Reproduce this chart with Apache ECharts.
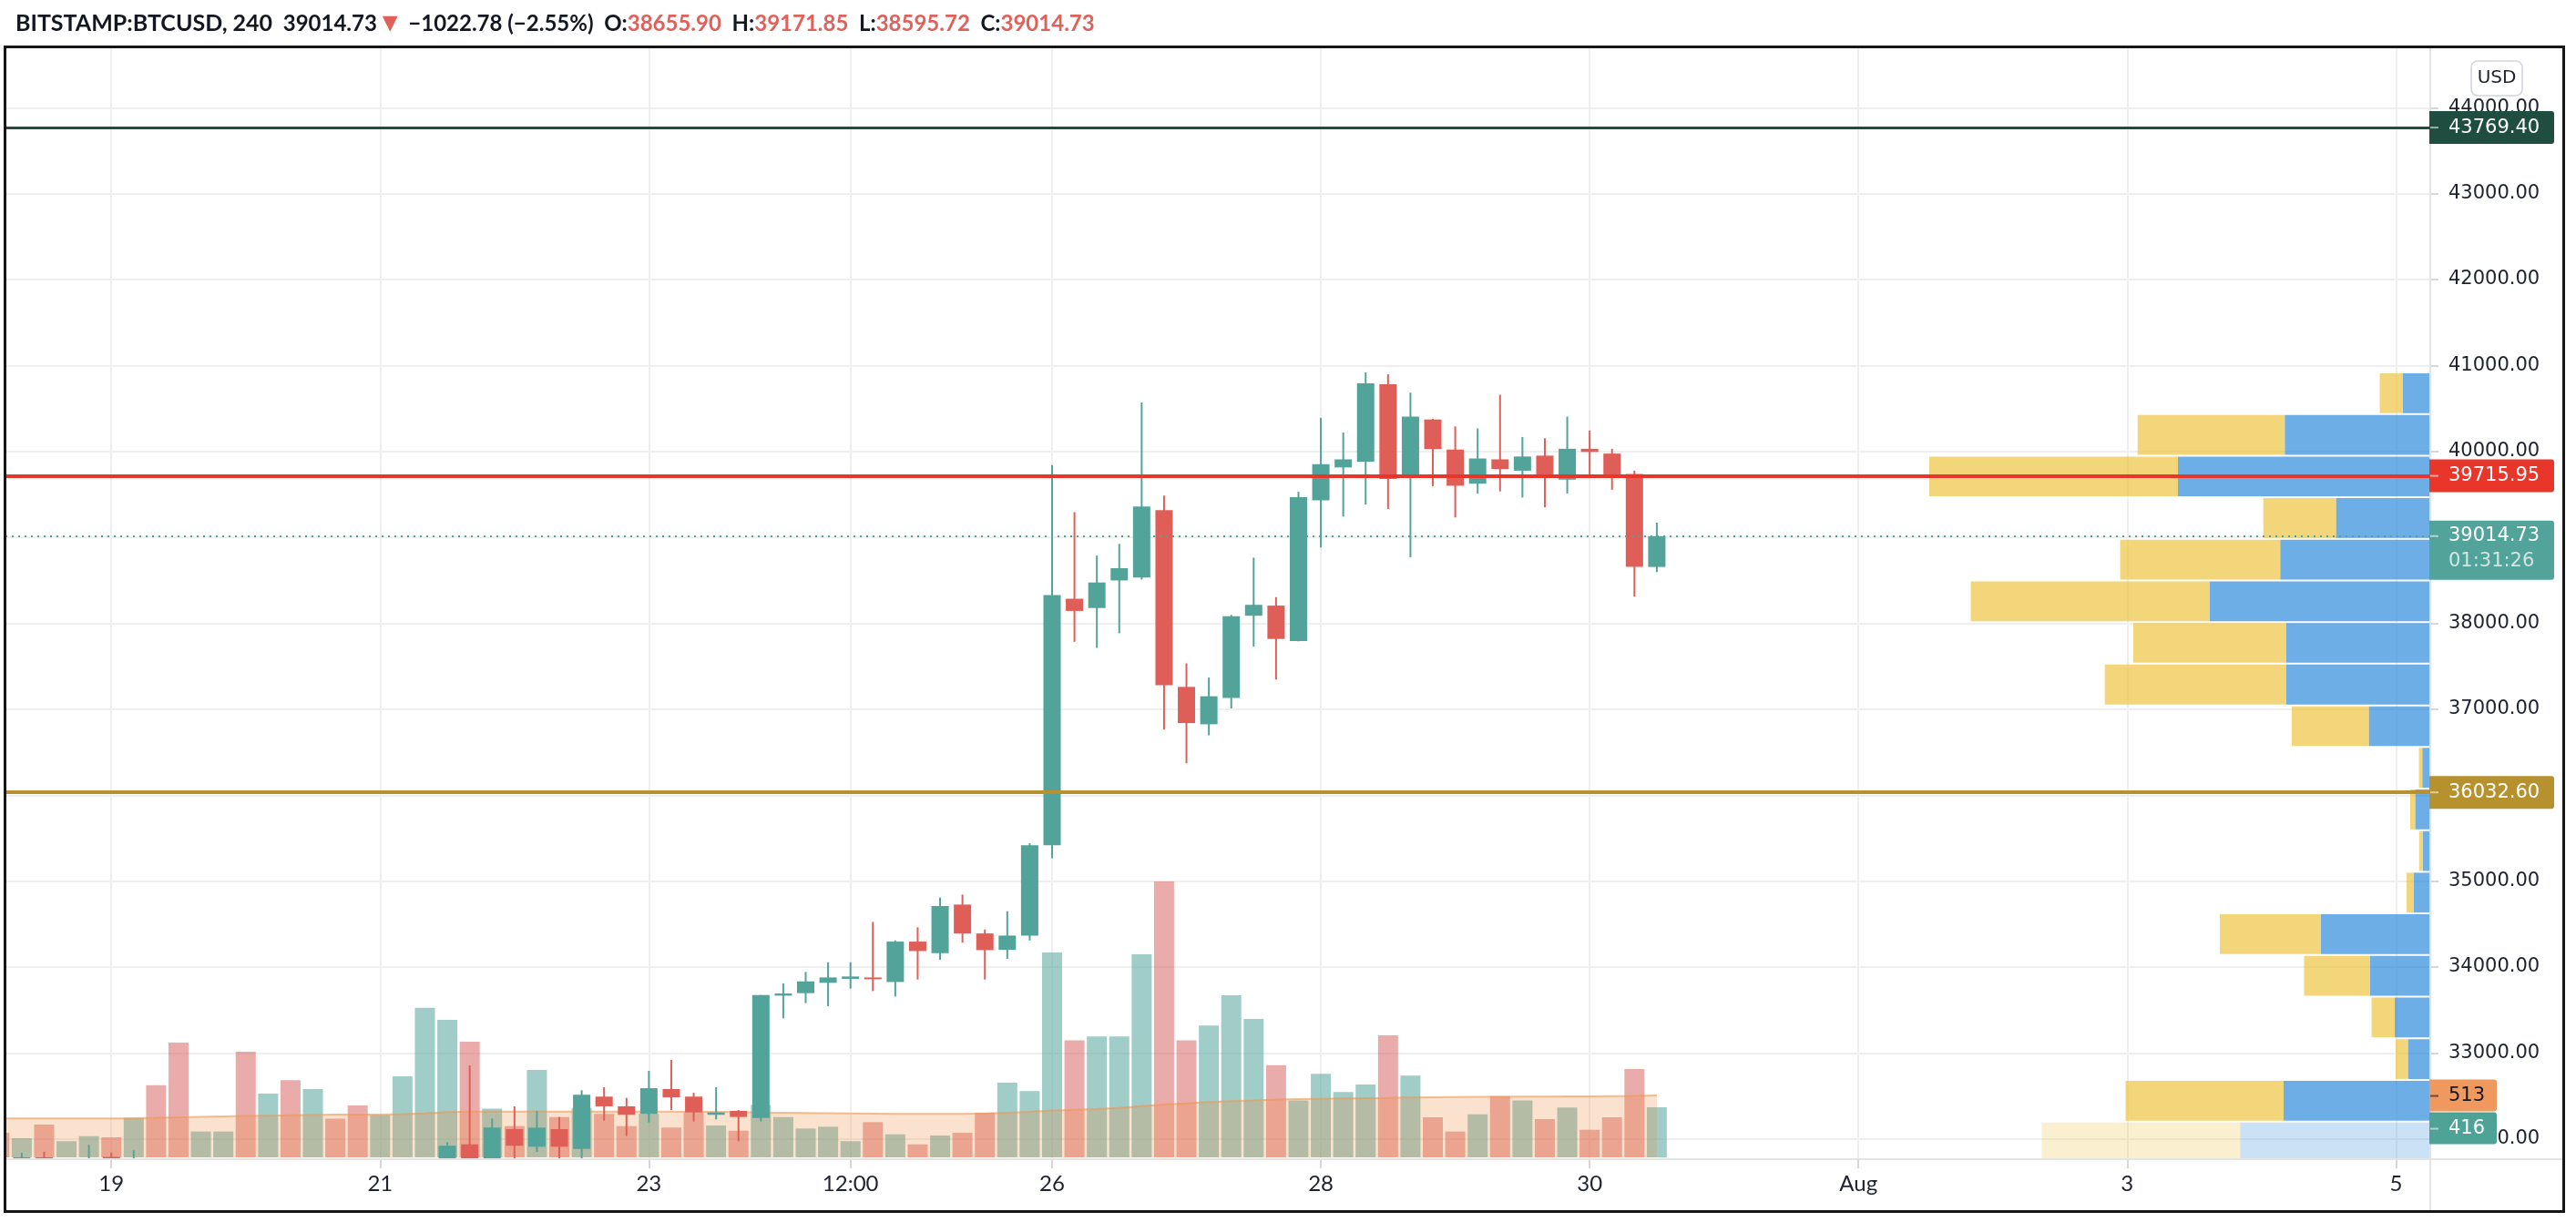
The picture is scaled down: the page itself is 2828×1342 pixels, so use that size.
<!DOCTYPE html>
<html>
<head>
<meta charset="utf-8">
<script src="https://cdn.jsdelivr.net/npm/echarts@6/dist/echarts.min.js"></script>
<style>
html,body{margin:0;padding:0;background:#fff;}
#chart{width:2828px;height:1342px;}
</style>
</head>
<body>
<div id="chart"></div>
<script>
// ---------------- DATA ----------------
// 4h candles, index 0 = 2021-07-18 04:00 ... index 74 = 2021-07-30 12:00
const candleOpen = [31700,31550,31785,31600,31650,31790,31600,31700,31300,30700,
  30850,30950,30200,30400,29800,29950,29800,29750,30300,31000,
  31500,31937,31550,32114,31909,32114,31884,32492,32379,32290,
  32580,32492,32280,32326,32244,33667,33696,33816,33862,33879,
  33826,34296,34162,34727,34391,34200,34366,35416,38286,38178,
  38499,38532,39317,37260,36825,37132,38088,38206,37794,39431,
  39814,39880,40783,39710,40372,40022,39625,39908,39776,39951,
  39672,40031,39975,39738,38655.90];
const candleHigh = [31760,31840,31850,31720,31930,31840,31867,31750,31400,31000,
  31150,31000,30600,30450,30200,30100,30050,30500,31200,31700,
  31962,32855,32237,32379,32326,32255,32566,32601,32477,32792,
  32919,32537,32601,32336,33674,33809,33943,34056,34056,34525,
  34310,34462,34808,34843,34437,34650,35440,39842,39294,38788,
  38925,40570,39487,37534,37369,38097,38764,38305,39530,40391,
  40220,40920,40897,40684,40380,40291,40268,40660,40168,40154,
  40405,40244,40031,39776,39171.85];
const candleLow = [31400,31400,31450,31450,31500,31450,31400,31150,30600,30550,
  30700,30050,29950,29500,29309,29600,29500,29650,30200,30900,
  31400,31400,31500,31700,31849,31700,31750,32213,32033,32191,
  32336,32202,32227,31972,32202,33403,33579,33544,33749,33720,
  33657,33855,34084,34285,33855,34096,34309,35265,37785,37714,
  37884,38509,36764,36371,36697,37009,37728,37345,37790,38882,
  39242,39383,39331,38769,39596,39232,39511,39535,39464,39350,
  39511,39710,39554,38310,38595.72];
const candleClose = [31550,31785,31600,31650,31700,31600,31700,31300,30700,30850,
  30950,30200,30400,29800,29950,29800,29750,30300,31000,31500,
  31920,31550,32131,31920,32131,31909,32513,32379,32280,32590,
  32484,32308,32308,32255,33674,33692,33833,33879,33890,33858,
  34296,34186,34709,34391,34197,34366,35416,38329,38144,38475,
  38641,39360,37279,36839,37151,38083,38215,37818,39469,39852,
  39908,40793,39681,40405,40027,39601,39918,39795,39941,39691,
  40031,39994,39700,38656,39014.73];
const volume = [204,159,272,134,176,166,327,599,951,214,
  214,876,529,639,566,320,430,352,672,1241,
  1140,959,403,259,725,335,410,360,259,360,
  247,372,264,221,435,335,239,254,134,292,
  191,108,181,204,370,619,549,1699,971,1002,
  1002,1684,2288,971,1092,1344,1148,765,471,692,
  541,604,1012,677,332,214,357,508,471,317,
  413,229,332,732,416];
const volumeMA = [322,322,322,322,322,322,325,328,332,336,
  340,343,346,349,352,355,355,355,358,365,
  375,380,380,380,380,380,380,380,380,380,
  380,378,377,375,372,370,368,366,364,362,
  360,360,360,361,365,370,378,388,395,402,
  410,425,437,448,458,466,472,479,483,486,
  488,490,492,496,498,500,502,503,504,504,
  505,506,508,510,513];

// Volume profile rows (visible rows, top to bottom)
const vpRowHigh = [40920,40436,39951,39467,38983,38498,38014,37530,37045,36561,36077,35592,35108,34624,34140,33655,33171,32687,32202];
const vpRowLow  = [40436,39951,39467,38983,38498,38014,37530,37045,36561,36077,35592,35108,34624,34140,33655,33171,32687,32202,31718];
const vpUpVol   = [300,1596,2770,1032,1646,2420,1580,1580,672,86,163,80,180,1200,660,390,242,1610,2086];
const vpDownVol = [254,1617,2730,801,1758,2624,1680,1993,848,38,57,42,80,1110,725,254,138,1735,2179];

// Horizontal levels
const levelValues = [43769.40, 39715.95, 36032.60];

// Tick labels
const xTickIndex = [5,17,29,38,47,59,71,83,95,107];
const xTickLabels = ['19','21','23','12:00','26','28','30','Aug','3','5'];
const yTickValues = [32000,33000,34000,35000,36000,37000,38000,39000,40000,41000,42000,43000,44000];

// Header
const headerSymbol = 'BITSTAMP:BTCUSD, 240';
const headerChange = '\u22121022.78 (\u22122.55%)';
const countdownText = '01:31:26';

// ---------------- STYLE / LAYOUT ----------------
const UP = '#52a49a', DOWN = '#df5f58';
const VOL_UP = 'rgba(82,164,154,0.55)', VOL_DOWN = 'rgba(214,89,87,0.5)';
const LEVEL_COLORS = ['#1f4d3f', '#e8372a', '#b8912f'];
const LEVEL_WIDTHS = [3, 4, 4];
const VP_UP = 'rgba(33,131,218,0.65)', VP_DOWN = 'rgba(236,190,50,0.65)';
const VP_UP_LIGHT = 'rgba(33,131,218,0.24)', VP_DOWN_LIGHT = 'rgba(236,190,50,0.24)';
const VP_VALUE_AREA_ROWS = 18;
const X_MIN = 0.2737, X_MAX = 108.53;
const PRICE_MIN = 31764, PRICE_MAX = 44692;
const VOL_MAX = 9196;
const VP_MAX = 26620;
const AXIS_X = 2668;
const TXT = '#1e222d';
const PFONT = '"DejaVu Sans"';
const BODY_W = 19;

const candles = candleOpen.map((o, i) => [i, o, candleClose[i], candleLow[i], candleHigh[i]]);
const volData = volume.map((v, i) => ({
  value: [i, v],
  itemStyle: { color: candleClose[i] >= candleOpen[i] ? VOL_UP : VOL_DOWN }
}));
const maData = volumeMA.map((v, i) => [i, v]);
const vpData = vpRowHigh.map((h, k) => [vpRowLow[k], h, vpUpVol[k], vpDownVol[k], k]);
const lastClose = candleClose[candleClose.length - 1];

const fmt2 = v => Number(v).toFixed(2);

const option = {
  animation: false,
  backgroundColor: '#ffffff',
  title: {
    left: 12, top: 6,
    text: '{s|' + headerSymbol + '}{n|  ' + fmt2(lastClose) + ' }{t|\u25BC}{n|  ' + headerChange + '  }'
      + '{k|O:}{r|' + fmt2(candleOpen[74]) + '}{k|  H:}{r|' + fmt2(candleHigh[74]) + '}'
      + '{k|  L:}{r|' + fmt2(candleLow[74]) + '}{k|  C:}{r|' + fmt2(candleClose[74]) + '}',
    textStyle: {
      rich: {
        s: { fontFamily: 'Lato', fontWeight: 'bold', fontSize: 25, color: '#131722', lineHeight: 30 },
        n: { fontFamily: 'Lato', fontSize: 24, color: '#131722', lineHeight: 30 },
        k: { fontFamily: 'Lato', fontWeight: 'bold', fontSize: 24, color: '#131722', lineHeight: 30 },
        r: { fontFamily: 'Lato', fontSize: 24, color: '#e0605a', lineHeight: 30 },
        t: { fontFamily: PFONT, fontSize: 22, color: '#e0605a', lineHeight: 30 }
      }
    }
  },
  grid: [
    { left: 6, right: 2828 - AXIS_X, top: 53, bottom: 69 },
    { left: 6, right: 2828 - AXIS_X, top: 53, bottom: 71 }
  ],
  xAxis: [
    {
      type: 'value', gridIndex: 0, min: X_MIN, max: X_MAX,
      axisLine: { show: false },
      axisTick: { show: true, customValues: xTickIndex, length: 10, lineStyle: { color: '#d6d6d6', width: 2 } },
      axisLabel: {
        customValues: xTickIndex, margin: 15,
        formatter: v => { const k = xTickIndex.indexOf(Math.round(v)); return k >= 0 ? xTickLabels[k] : ''; },
        color: TXT, fontFamily: 'Lato', fontSize: 24
      },
      splitLine: { show: true, lineStyle: { color: '#efefef', width: 2 } }
    },
    { type: 'value', gridIndex: 1, min: X_MIN, max: X_MAX, show: false, splitLine: { show: false } },
    { type: 'value', gridIndex: 0, min: 0, max: VP_MAX, inverse: true, show: false, splitLine: { show: false } }
  ],
  yAxis: [
    {
      type: 'value', gridIndex: 0, position: 'right', min: PRICE_MIN, max: PRICE_MAX, splitNumber: 13,
      axisLine: { show: false },
      axisTick: { show: true, customValues: yTickValues, length: 9, lineStyle: { color: '#d6d6d6', width: 2 } },
      axisLabel: {
        customValues: yTickValues, margin: 20, formatter: v => fmt2(v),
        color: TXT, fontFamily: PFONT, fontSize: 21
      },
      splitLine: { show: true, lineStyle: { color: '#efefef', width: 2 } }
    },
    { type: 'value', gridIndex: 1, min: 0, max: VOL_MAX, show: false, splitLine: { show: false } }
  ],
  series: [
    {
      name: 'Volume', type: 'bar', xAxisIndex: 1, yAxisIndex: 1, barWidth: 22, z: 1,
      data: volData, silent: true
    },
    {
      name: 'Volume MA', type: 'line', xAxisIndex: 1, yAxisIndex: 1, z: 2, showSymbol: false, symbol: 'none',
      data: maData, silent: true,
      lineStyle: { color: 'rgba(240,150,80,0.6)', width: 2 },
      areaStyle: { color: 'rgba(240,140,60,0.36)' }
    },
    {
      name: 'VPVR', type: 'custom', xAxisIndex: 2, yAxisIndex: 0, z: 3, clip: true, silent: true,
      data: vpData,
      encode: { x: [2, 3], y: [0, 1] },
      renderItem: function (params, api) {
        const lo = api.value(0), hi = api.value(1), up = api.value(2), dn = api.value(3), k = api.value(4);
        const pR = api.coord([0, hi]);
        const pRb = api.coord([0, lo]);
        const pU = api.coord([up, hi]);
        const pA = api.coord([up + dn, hi]);
        const top = pR[1] + 1, h = pRb[1] - pR[1] - 2;
        const light = k >= VP_VALUE_AREA_ROWS;
        return {
          type: 'group',
          children: [
            { type: 'rect', shape: { x: pA[0], y: top, width: pU[0] - pA[0], height: h }, style: { fill: light ? VP_DOWN_LIGHT : VP_DOWN } },
            { type: 'rect', shape: { x: pU[0], y: top, width: pR[0] - pU[0], height: h }, style: { fill: light ? VP_UP_LIGHT : VP_UP } }
          ]
        };
      }
    },
    {
      name: 'BTCUSD', type: 'custom', xAxisIndex: 0, yAxisIndex: 0, z: 4, clip: true, silent: true,
      data: candles,
      encode: { x: 0, y: [1, 2, 3, 4] },
      renderItem: function (params, api) {
        const x = api.value(0), o = api.value(1), c = api.value(2), l = api.value(3), h = api.value(4);
        const pO = api.coord([x, o]), pC = api.coord([x, c]), pL = api.coord([x, l]), pH = api.coord([x, h]);
        const color = c >= o ? UP : DOWN;
        const top = Math.min(pO[1], pC[1]), bot = Math.max(pO[1], pC[1]);
        return {
          type: 'group',
          children: [
            { type: 'line', shape: { x1: pH[0], y1: pH[1], x2: pL[0], y2: pL[1] }, style: { stroke: color, lineWidth: 2 } },
            { type: 'rect', shape: { x: pO[0] - BODY_W / 2, y: top, width: BODY_W, height: Math.max(bot - top, 2) }, style: { fill: color } }
          ]
        };
      }
    },
    {
      name: 'Levels', type: 'line', xAxisIndex: 0, yAxisIndex: 0, z: 5, data: [], silent: true,
      markLine: {
        symbol: ['none', 'none'], silent: true, animation: false,
        label: { show: false },
        data: [
          { yAxis: levelValues[0], lineStyle: { color: LEVEL_COLORS[0], width: LEVEL_WIDTHS[0], type: 'solid' } },
          { yAxis: levelValues[1], lineStyle: { color: LEVEL_COLORS[1], width: LEVEL_WIDTHS[1], type: 'solid' } },
          { yAxis: levelValues[2], lineStyle: { color: LEVEL_COLORS[2], width: LEVEL_WIDTHS[2], type: 'solid' } },
          { yAxis: lastClose, lineStyle: { color: UP, width: 2, type: [2, 5] } }
        ]
      }
    }
  ]
};

const chart = echarts.init(document.getElementById('chart'), null, { renderer: 'canvas' });
chart.setOption(option);

// ---------------- right-side tags & frame ----------------
const Z = 100;
function tag(elements, yCenter, height, width, fill, lines, textColors, dashColor) {
  const top = yCenter - height / 2;
  elements.push({ type: 'rect', z: Z, shape: { x: AXIS_X - 1, y: top, width: width, height: height, r: [0, 3, 3, 0] }, style: { fill: fill } });
  elements.push({ type: 'line', z: Z + 1, shape: { x1: AXIS_X, y1: top + 18, x2: AXIS_X + 9, y2: top + 18 }, style: { stroke: dashColor, lineWidth: 2 } });
  lines.forEach((t, i) => {
    elements.push({ type: 'text', z: Z + 1, style: {
      text: t, x: AXIS_X + 20, y: top + 18 + i * 28,
      fill: textColors[i], font: '21px ' + PFONT,
      align: 'left', verticalAlign: 'middle', textAlign: 'left', textVerticalAlign: 'middle'
    } });
  });
}

const g = [];
g.push({ type: 'rect', z: Z - 2, shape: { x: 0, y: 40, width: 5, height: 1302 }, style: { fill: '#fff' } });
g.push({ type: 'line', z: Z - 1, shape: { x1: AXIS_X, y1: 53, x2: AXIS_X, y2: 1329 }, style: { stroke: '#e3e3e3', lineWidth: 2 } });
g.push({ type: 'line', z: Z - 1, shape: { x1: 7, y1: 1273, x2: 2813, y2: 1273 }, style: { stroke: '#e3e3e3', lineWidth: 2 } });
levelValues.forEach((v, i) => {
  const y = chart.convertToPixel({ yAxisIndex: 0 }, v);
  tag(g, y, 36, 137, LEVEL_COLORS[i], [fmt2(v)], ['#ffffff'], 'rgba(255,255,255,0.55)');
});
{
  const y = chart.convertToPixel({ yAxisIndex: 0 }, lastClose);
  const top = y - 17;
  g.push({ type: 'rect', z: Z, shape: { x: AXIS_X - 1, y: top, width: 137, height: 65, r: [0, 3, 3, 0] }, style: { fill: UP } });
  g.push({ type: 'line', z: Z + 1, shape: { x1: AXIS_X, y1: y, x2: AXIS_X + 9, y2: y }, style: { stroke: 'rgba(255,255,255,0.55)', lineWidth: 2 } });
  g.push({ type: 'text', z: Z + 1, style: { text: fmt2(lastClose), x: AXIS_X + 20, y: y, fill: '#fff', font: '21px ' + PFONT, align: 'left', verticalAlign: 'middle', textAlign: 'left', textVerticalAlign: 'middle' } });
  g.push({ type: 'text', z: Z + 1, style: { text: countdownText, x: AXIS_X + 20, y: y + 28, fill: 'rgba(255,255,255,0.72)', font: '21px ' + PFONT, align: 'left', verticalAlign: 'middle', textAlign: 'left', textVerticalAlign: 'middle' } });
}
{
  const maLast = volumeMA[volumeMA.length - 1];
  const volLast = volume[volume.length - 1];
  const yMa = chart.convertToPixel({ yAxisIndex: 1 }, maLast);
  let yVol = chart.convertToPixel({ yAxisIndex: 1 }, volLast);
  if (yVol - 17.5 < yMa + 18.5) yVol = yMa + 18.5 + 17.5;
  tag(g, yMa, 35, 74, '#f0995f', [String(maLast)], ['#131722'], 'rgba(19,23,34,0.6)');
  tag(g, yVol, 35, 74, '#4fa396', [String(volLast)], ['#ffffff'], 'rgba(255,255,255,0.55)');
}
g.push({ type: 'rect', z: Z, shape: { x: 2713, y: 67, width: 56, height: 38, r: 7 }, style: { fill: '#fff', stroke: '#d1d4dc', lineWidth: 1.5 } });
g.push({ type: 'text', z: Z + 1, style: { text: 'USD', x: 2741, y: 86, fill: TXT, font: '20px ' + PFONT, align: 'center', verticalAlign: 'middle', textAlign: 'center', textVerticalAlign: 'middle' } });
g.push({ type: 'rect', z: Z + 5, shape: { x: 5.5, y: 51.5, width: 2809, height: 1279 }, style: { fill: 'none', stroke: '#161616', lineWidth: 3 } });

chart.setOption({ graphic: { elements: g } });
</script>
</body>
</html>
